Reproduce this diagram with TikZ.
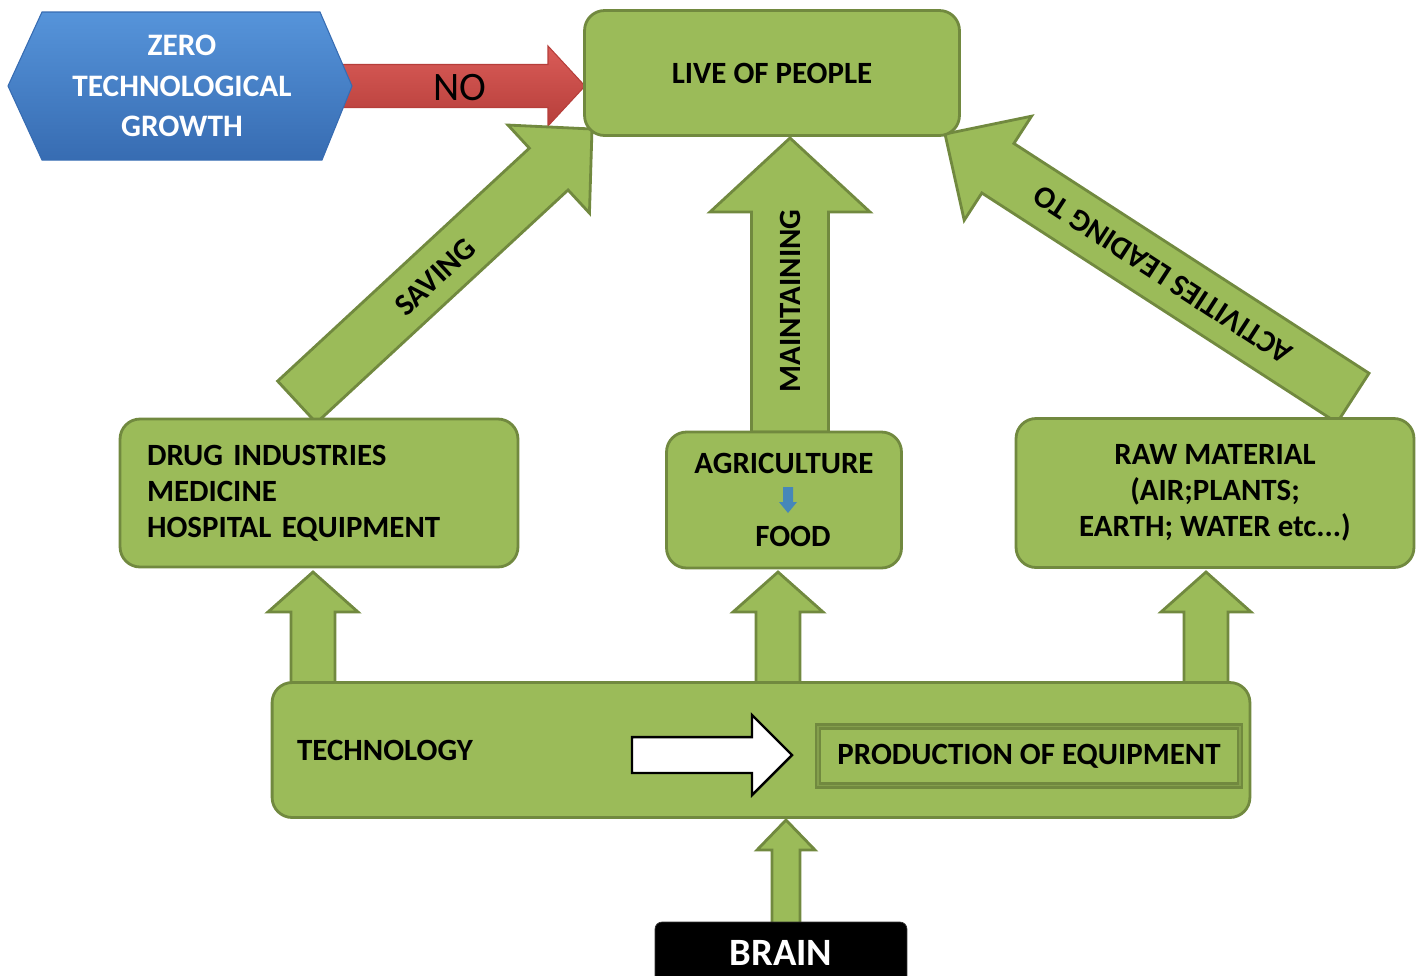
\documentclass[tikz,border=0pt]{standalone}
\usepackage{fontspec}
\setmainfont{Carlito}
\usepackage{xcolor}
\usepackage{tikz}
\usetikzlibrary{calc}

\definecolor{leaf}{RGB}{155,187,89}
\definecolor{leafdark}{RGB}{113,137,63}
\definecolor{hextop}{RGB}{86,148,218}
\definecolor{hexbottom}{RGB}{55,108,178}
\definecolor{redtop}{RGB}{218,92,88}
\definecolor{redbottom}{RGB}{182,62,58}
\definecolor{smallblue}{RGB}{70,135,185}

% block arrow: [style]{from}{to}{half shaft}{half head}{head length}
\newcommand{\fatarrow}[6][fat]{
    \draw[#1] ($(#2)!#4!90:(#3)$)
        -- ($(#3)!#6!(#2)!#4!90:(#3)$)
        -- ($(#3)!#6!(#2)!#5!90:(#3)$)
        -- (#3)
        -- ($(#3)!#6!(#2)!#5!-90:(#3)$)
        -- ($(#3)!#6!(#2)!#4!-90:(#3)$)
        -- ($(#2)!#4!-90:(#3)$) -- cycle;
}

\tikzset{
    box/.style={draw=leafdark, fill=leaf, line width=1.6pt, rounded corners=0.4cm,
        font=\bfseries\fontsize{17.6}{20.5}\selectfont, text=black},
    fat/.style={draw=leafdark, fill=leaf, line width=1.6pt},
    lbl/.style={font=\bfseries\fontsize{17.6}{20}\selectfont, text=black},
    prodbox/.style={draw=leafdark, double=leaf!85!black, double distance=1pt, line width=1.4pt,
        fill=leaf, font=\bfseries\fontsize{17.6}{20}\selectfont, text=black},
    whitearrow/.style={draw=black, fill=white, line width=1.4pt},
    redarrow/.style={top color=redtop, bottom color=redbottom, draw=redbottom, line width=0.6pt},
    bluearrow/.style={fill=smallblue, draw=none},
    brainbox/.style={fill=black, draw=black!80, rounded corners=4pt, text=white,
        font=\bfseries\fontsize{22}{24}\selectfont},
}

\begin{document}
\begin{tikzpicture}[x=0.02cm, y=-0.02cm]
        \useasboundingbox (0,0) rectangle (1423,975);

        % arrow ends
        \coordinate (no0) at (340,86);
        \coordinate (no1) at (585,86);
        \coordinate (sav0) at (297,402);
        \coordinate (sav1) at (592,129);
        \coordinate (main0) at (790,432);
        \coordinate (main1) at (790,138);
        \coordinate (act0) at (1353,398);
        \coordinate (act1) at (945,134);
        \coordinate (brain0) at (786,924);
        \coordinate (brain1) at (786,820);
        \coordinate (wa0) at (632,755);
        \coordinate (wa1) at (792,755);

        % arrows going up
        \fatarrow[redarrow]{no0}{no1}{0.43cm}{0.8cm}{0.74cm}
        \fatarrow{sav0}{sav1}{0.57cm}{1.2cm}{1.18cm}
        \fatarrow{main0}{main1}{0.77cm}{1.6cm}{1.48cm}
        \fatarrow{act0}{act1}{0.59cm}{1.24cm}{1.26cm}
        \foreach \n/\x in {drug/313,agri/778,raw/1206} {
            \coordinate (\n lo) at (\x,685);
            \coordinate (\n hi) at (\x,572);
            \fatarrow{\n lo}{\n hi}{0.44cm}{0.9cm}{0.8cm}
        }
        \fatarrow{brain0}{brain1}{0.28cm}{0.58cm}{0.6cm}

        % zero growth hexagon
        \shade[top color=hextop, bottom color=hexbottom, draw=hexbottom, line width=0.6pt]
            (8,86) -- (42,12) -- (320,12) -- (352,86) -- (322,160) -- (42,160) -- cycle;
        \node[align=center, text=white, font=\bfseries\fontsize{17.8}{23}\selectfont] (zero) at (182,86)
            {ZERO\\TECHNOLOGICAL\\GROWTH};
        \node[font=\fontsize{23}{24}\selectfont] (no) at (460,88) {NO};

        % boxes
        \node[box, minimum width=7.5cm, minimum height=2.5cm] (life) at (772,73) {LIVE OF PEOPLE};
        \node[box, text width=6.88cm, inner xsep=0.54cm, minimum height=2.96cm, align=left] (drug) at (319,493)
            {DRUG INDUSTRIES\\MEDICINE\\HOSPITAL EQUIPMENT};
        \node[box, minimum width=4.7cm, minimum height=2.72cm, align=center] (agri) at (784,500)
            {AGRICULTURE\\[21pt]\hspace*{0.36cm}FOOD};
        \node[box, minimum width=7.96cm, minimum height=2.98cm, align=center] (raw) at (1215,493)
            {RAW MATERIAL\\(AIR;PLANTS;\\EARTH; WATER etc...)};
        \node[box, text width=18.56cm, inner xsep=0.5cm, minimum height=2.7cm, align=left] (tech) at (761,750)
            {TECHNOLOGY};
        \node[prodbox, minimum width=8.44cm, minimum height=1.18cm] (prod) at (1029,756) {PRODUCTION OF EQUIPMENT};
        \node[brainbox, minimum width=5.04cm, minimum height=1.24cm] (brain) at (781,953) {BRAIN};

        % small arrow food
        \coordinate (fd0) at (788,487);
        \coordinate (fd1) at (788,513);
        \fatarrow[bluearrow]{fd0}{fd1}{0.1cm}{0.18cm}{0.22cm}

        % technology to production
        \fatarrow[whitearrow]{wa0}{wa1}{0.36cm}{0.8cm}{0.8cm}

        % words on the arrows
        \node[lbl, rotate=43] (saving) at (435,277) {SAVING};
        \node[lbl, rotate=90] (maint) at (790,301) {MAINTAINING};
        \node[lbl, rotate=147] (activ) at (1163,275) {ACTIVITIES LEADING TO};

    \end{tikzpicture}
\end{document}
